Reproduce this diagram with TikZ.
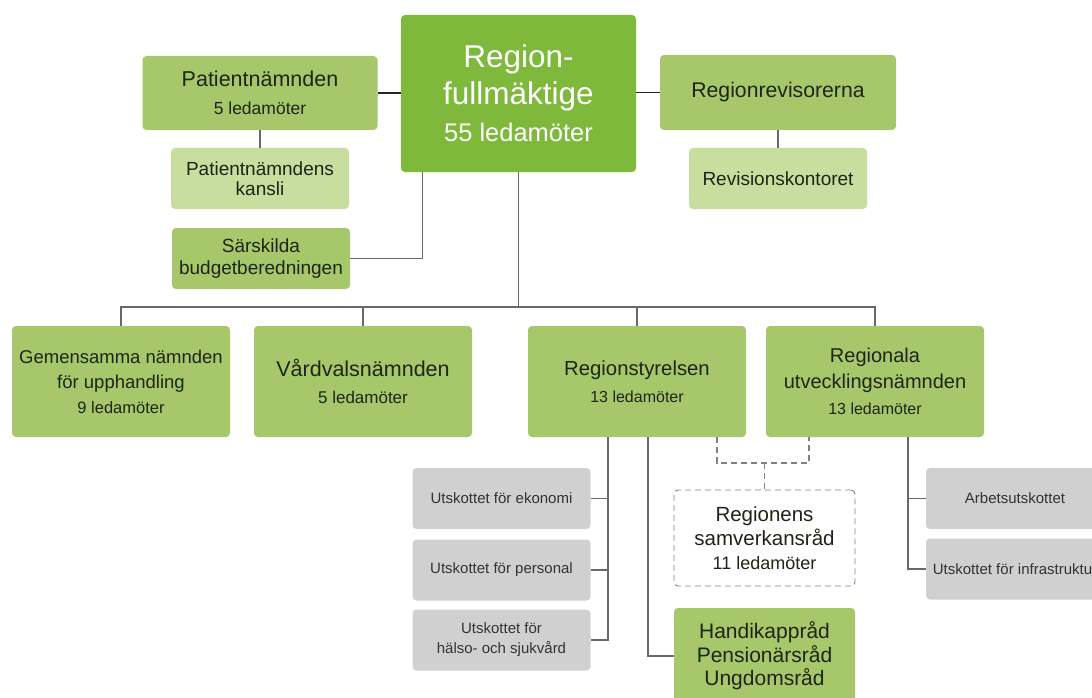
\documentclass[tikz,border=0pt]{standalone}
\usepackage{fontspec}
\setmainfont{Liberation Sans}
\usepackage{tikz}

\definecolor{gmain}{RGB}{126,185,60}
\definecolor{gmid}{RGB}{166,200,106}
\definecolor{glite}{RGB}{200,222,158}
\definecolor{gry}{RGB}{208,208,208}
\definecolor{txt}{RGB}{30,36,24}
\definecolor{linegray}{RGB}{105,105,105}
\newcommand{\ledamot}[2][16]{{\fontsize{#1}{#1}\selectfont #2 ledamöter}}

\begin{document}
\begin{tikzpicture}[x=1pt,y=-1pt,
  box/.style={rounded corners=4pt,align=center,inner sep=0pt,text=txt,font=\fontsize{20}{26}\selectfont},
  mainbox/.style={box,fill=gmain,text=white,minimum width=235pt,minimum height=157pt,font=\fontsize{31.5}{37}\selectfont},
  midbox/.style={box,fill=gmid},
  litebox/.style={box,fill=glite,minimum width=178pt,minimum height=61pt},
  rowbox/.style={midbox,minimum width=218pt,minimum height=111pt},
  utsk/.style={box,fill=gry,text=black!80,minimum width=178pt,minimum height=61pt,font=\fontsize{15}{20}\selectfont},
  link/.style={draw=linegray,line width=1.2pt},
  toplink/.style={link,draw=black!85},
  dashlink/.style={link,dash pattern=on 6pt off 4pt,draw=gray}]
\clip (0,0) rectangle (1092,698);
\fill[white] (0,0) rectangle (1092,698);

\node[mainbox] (rf) at (518.5,93.5) {Region-\\fullmäktige\\\ledamot[25.5]{55}};
\node[midbox,minimum width=235pt,minimum height=74pt,font=\fontsize{21.5}{28}\selectfont] (pn) at (260,93) {Patientnämnden\\\ledamot[17.5]{5}};
\node[litebox,font=\fontsize{19}{20}\selectfont] (pk) at (260,178.5) {Patientnämndens\\kansli};
\node[midbox,minimum width=178pt,minimum height=61pt,font=\fontsize{19}{22}\selectfont] (sb) at (261,258.5) {Särskilda\\budgetberedningen};
\node[midbox,minimum width=236pt,minimum height=75pt,font=\fontsize{21.2}{26}\selectfont] (rr) at (778,92.5) {Regionrevisorerna};
\node[litebox,font=\fontsize{19}{22}\selectfont] (rk) at (778,178.5) {Revisionskontoret};

\node[rowbox,font=\fontsize{18.5}{25}\selectfont] (gn) at (121,381.5) {Gemensamma nämnden\\för upphandling\\\ledamot[16.5]{9}};
\node[rowbox,font=\fontsize{21.5}{27}\selectfont] (vn) at (363,381.5) {Vårdvalsnämnden\\\ledamot[17]{5}};
\node[rowbox,font=\fontsize{20.3}{27}\selectfont] (rs) at (637,381.5) {Regionstyrelsen\\\ledamot{13}};
\node[rowbox] (ru) at (875,381.5) {Regionala\\utvecklingsnämnden\\\ledamot{13}};

\node[utsk] (ue) at (501.5,498.5) {Utskottet för ekonomi};
\node[utsk] (up) at (501.5,570) {Utskottet för personal};
\node[utsk] (uh) at (501.5,640) {Utskottet för\\hälso- och sjukvård};
\node[box,draw=gray,dash pattern=on 6pt off 4pt,line width=0.9pt,minimum width=181pt,minimum height=96pt,font=\fontsize{20.5}{24}\selectfont] (sr) at (764.5,538) {Regionens\\samverkansråd\\\ledamot[18]{11}};
\node[midbox,minimum width=181pt,minimum height=96pt,font=\fontsize{21}{23.5}\selectfont] (hp) at (764.5,656) {Handikappråd\\Pensionärsråd\\Ungdomsråd};
\node[utsk] (au) at (1015,498.5) {Arbetsutskottet};
\node[utsk] (ui) at (1015,569) {Utskottet för infrastruktur};

\draw[toplink] (pn.east) -- (pn.east -| rf.west);
\draw[toplink] (rr.west -| rf.east) -- (rr.west);
\draw[link] (pn.south) -- (pk.north);
\draw[link] (rr.south) -- (rk.north);
\draw[link] ([xshift=22pt]rf.south west) |- (sb.east);
\coordinate (bus) at (rf.south |- 0,307);
\draw[link] (rf.south) -- (bus);
\foreach \n in {gn,vn,rs,ru}
  \draw[link] (bus) -| (\n.north);

\coordinate (rsl) at ([xshift=-29pt]rs.south);
\draw[link] (rsl) |- (uh.east);
\foreach \n in {ue,up}
  \draw[link] (\n.east) -- (\n.east -| rsl);
\draw[link] ([xshift=11pt]rs.south) |- (hp.west);
\coordinate (sj) at (764.5,463);
\draw[dashlink] ([xshift=80pt]rs.south) |- (sj) -| ([xshift=-66pt]ru.south);
\draw[dashlink] (sj) -- (sr.north);
\coordinate (rul) at ([xshift=33pt]ru.south);
\draw[link] (rul) |- (ui.west);
\draw[link] (au.west) -- (au.west -| rul);
\end{tikzpicture}
\end{document}
